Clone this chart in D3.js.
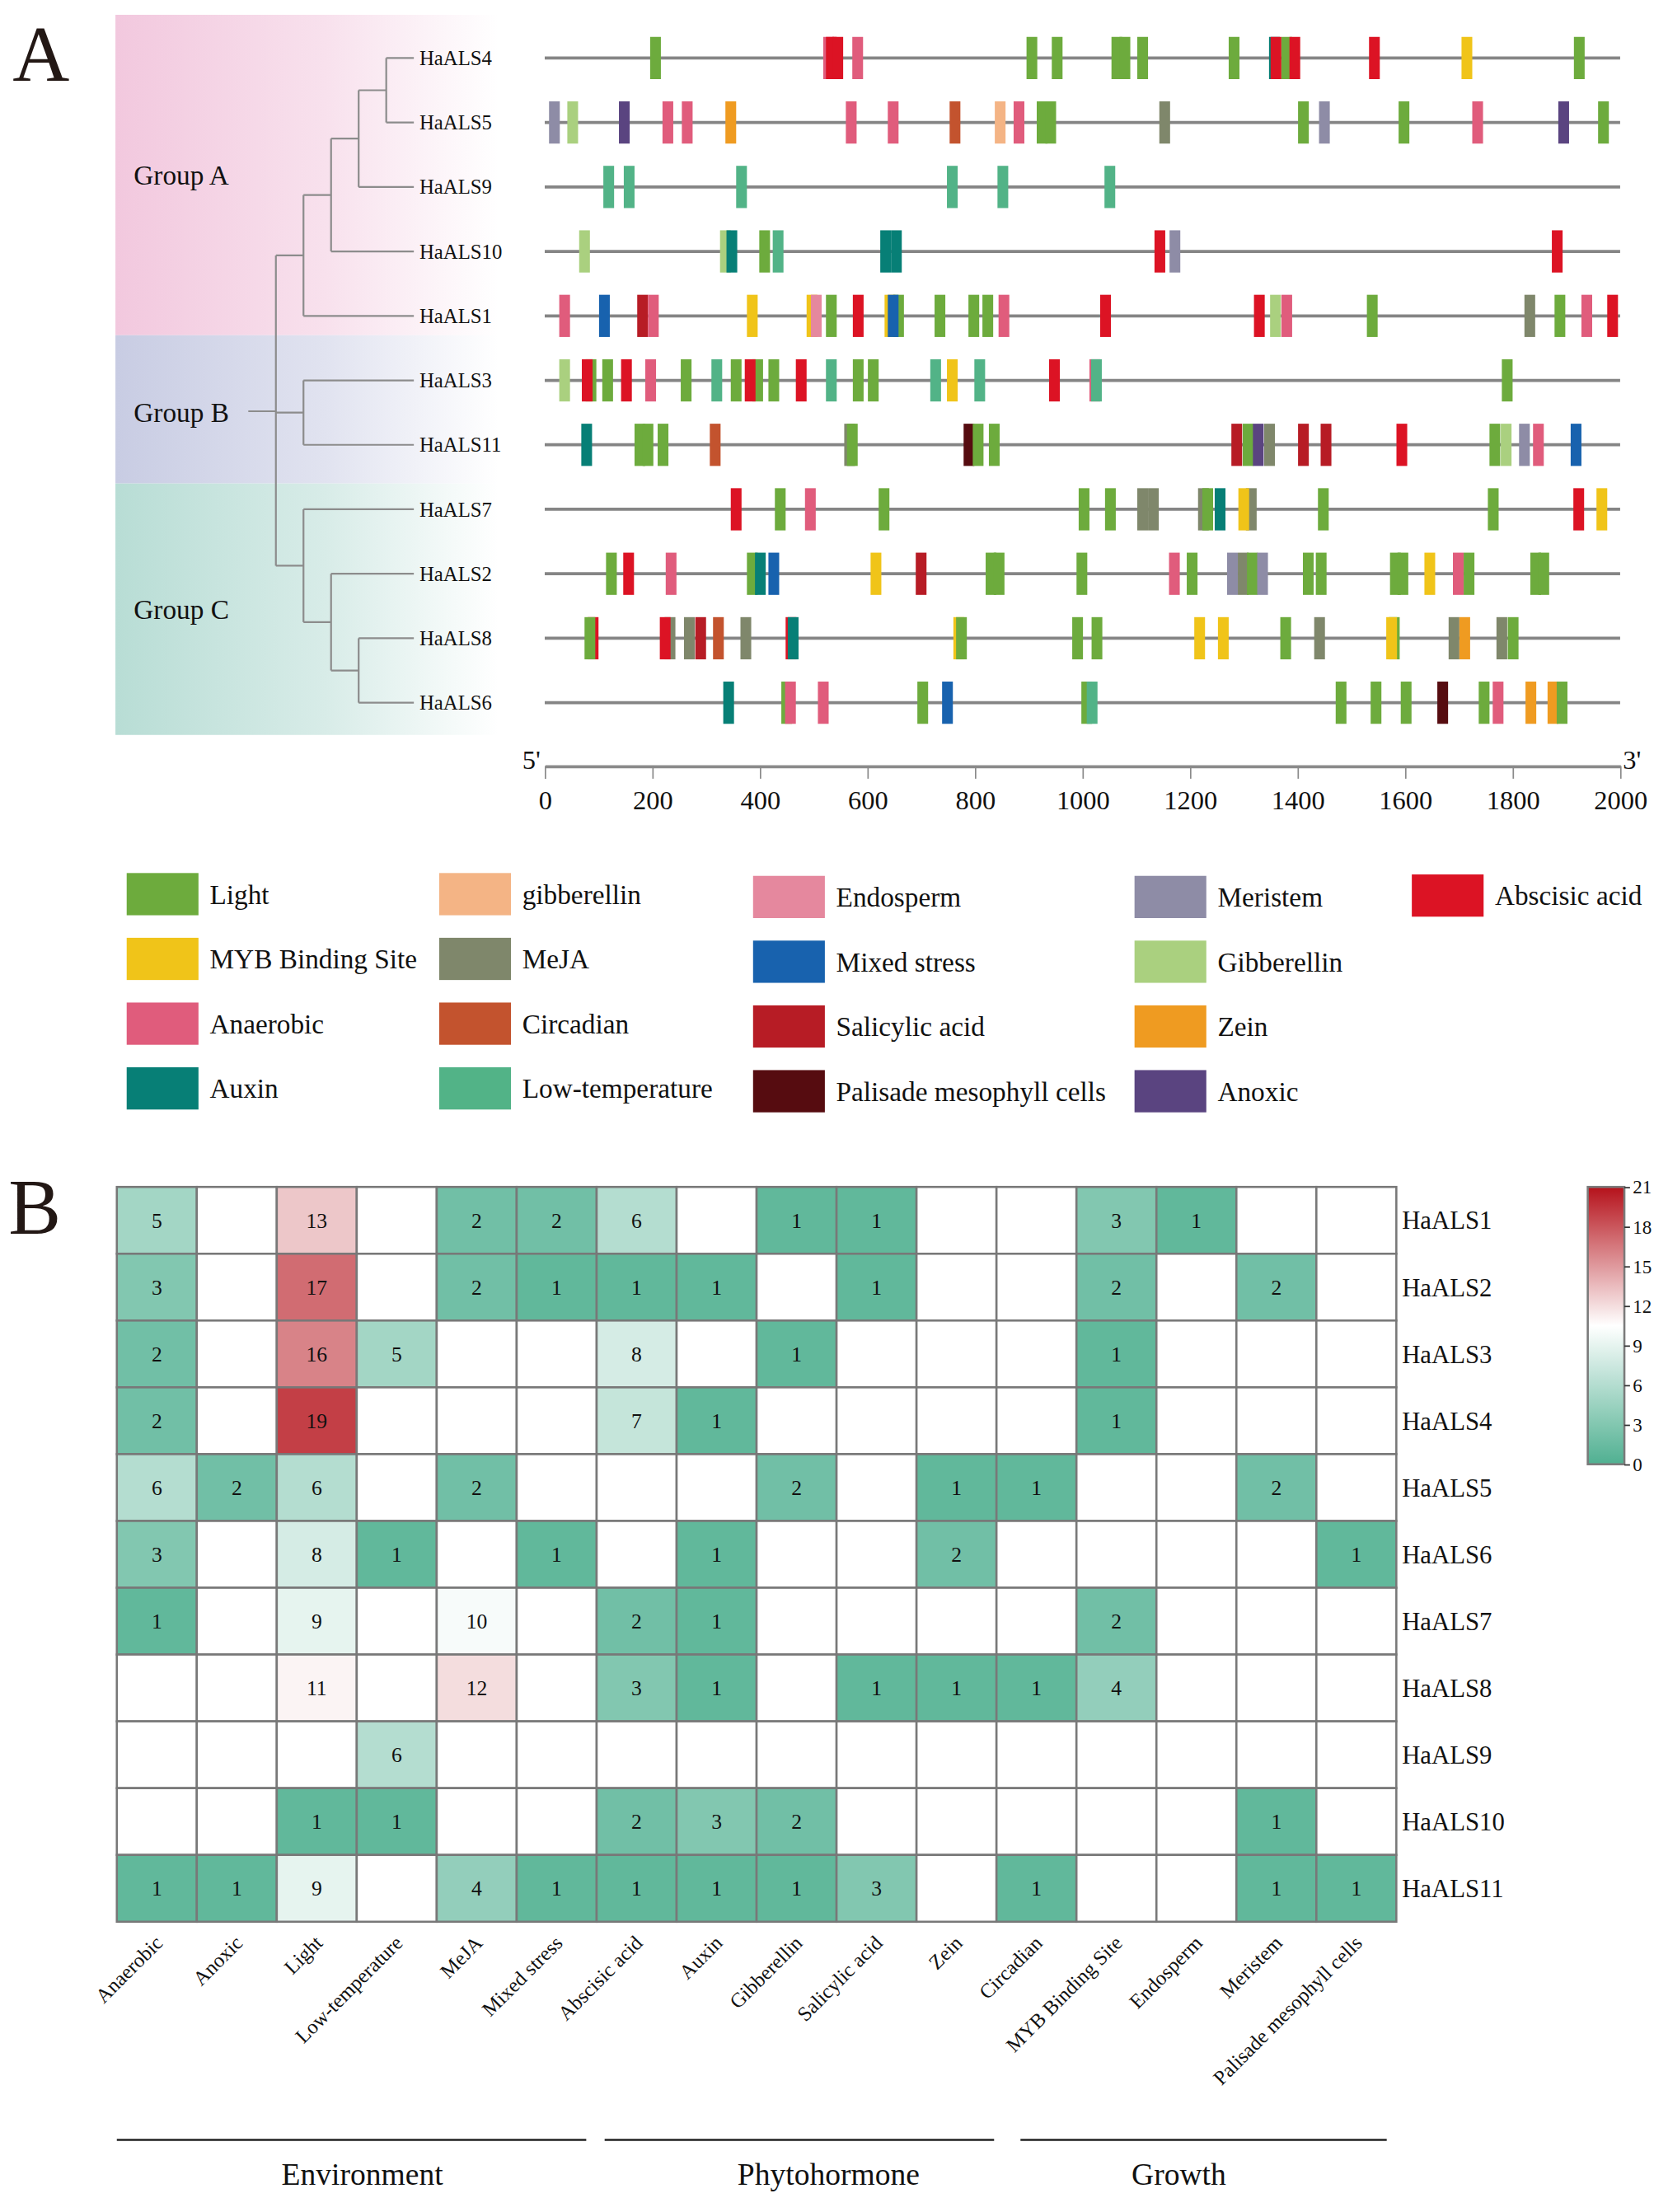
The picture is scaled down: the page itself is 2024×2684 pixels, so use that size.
<!DOCTYPE html>
<html>
<head>
<meta charset="utf-8">
<script src="https://cdn.jsdelivr.net/npm/d3@7"></script>
<style>
    html, body { margin: 0; padding: 0; background: #ffffff; }
    svg { display: block; }
</style>
</head>
<body>
<svg id="chart"></svg>
<script>
const PAGE_WIDTH = 2024;
const PAGE_HEIGHT = 2684;
const VIEW_WIDTH = 1185;
const VIEW_HEIGHT = 1571;
const FONT = "'Liberation Serif', 'Times New Roman', serif";

// ---- Panel A data ----------------------------------------------------------
const geneOrder = ["HaALS4", "HaALS5", "HaALS9", "HaALS10", "HaALS1", "HaALS3",
    "HaALS11", "HaALS7", "HaALS2", "HaALS8", "HaALS6"];

// nested clades, leaves are gene names
const treeClades = [
    [[[["HaALS4", "HaALS5"], "HaALS9"], "HaALS10"], "HaALS1"],
    ["HaALS3", "HaALS11"],
    ["HaALS7", ["HaALS2", ["HaALS8", "HaALS6"]]]
];

const groupNames = ["Group A", "Group B", "Group C"];
const groupColors = ["#f2c8de", "#c8cce3", "#b8ddd5"];

const promoterLength = 2000;
const elementLength = 20;

// [position (bp), element type]
const haALS4Elements = [[196, "Light"], [518, "Anaerobic"], [523, "Abscisic acid"], [535, "Abscisic acid"],
    [572, "Anaerobic"], [896, "Light"], [943, "Light"], [1054, "Light"], [1069, "Light"], [1102, "Light"],
    [1272, "Light"], [1347, "Auxin"], [1350, "Abscisic acid"], [1370, "Light"], [1385, "Abscisic acid"],
    [1533, "Abscisic acid"], [1705, "MYB Binding Site"], [1914, "Light"]];
const haALS5Elements = [[8, "Meristem"], [42, "Gibberellin"], [138, "Anoxic"], [219, "Anaerobic"],
    [255, "Anaerobic"], [336, "Zein"], [560, "Anaerobic"], [638, "Anaerobic"], [753, "Circadian"],
    [837, "gibberellin"], [872, "Anaerobic"], [915, "Light"], [931, "Light"], [1143, "MeJA"], [1401, "Light"],
    [1440, "Meristem"], [1588, "Light"], [1725, "Anaerobic"], [1885, "Anoxic"], [1959, "Light"]];
const haALS9Elements = [[109, "Low-temperature"], [147, "Low-temperature"], [356, "Low-temperature"],
    [748, "Low-temperature"], [842, "Low-temperature"], [1041, "Low-temperature"]];
const haALS10Elements = [[64, "Gibberellin"], [326, "Gibberellin"], [338, "Auxin"], [399, "Light"],
    [424, "Low-temperature"], [624, "Auxin"], [644, "Auxin"], [1134, "Abscisic acid"], [1162, "Meristem"],
    [1873, "Abscisic acid"]];
const haALS1Elements = [[27, "Anaerobic"], [101, "Mixed stress"], [172, "Salicylic acid"], [192, "Anaerobic"],
    [376, "MYB Binding Site"], [487, "MYB Binding Site"], [495, "Endosperm"], [523, "Light"],
    [573, "Abscisic acid"], [632, "MYB Binding Site"], [648, "Light"], [638, "Mixed stress"], [725, "Light"],
    [788, "Light"], [814, "Light"], [844, "Anaerobic"], [1033, "Abscisic acid"], [1319, "Abscisic acid"],
    [1349, "Gibberellin"], [1370, "Anaerobic"], [1529, "Light"], [1822, "MeJA"], [1878, "Light"],
    [1928, "Anaerobic"], [1976, "Abscisic acid"]];
const haALS3Elements = [[27, "Gibberellin"], [76, "Light"], [69, "Abscisic acid"], [107, "Light"],
    [142, "Abscisic acid"], [187, "Anaerobic"], [253, "Light"], [310, "Low-temperature"], [346, "Light"],
    [386, "Light"], [372, "Abscisic acid"], [416, "Light"], [467, "Abscisic acid"], [523, "Low-temperature"],
    [573, "Light"], [601, "Light"], [717, "Low-temperature"], [748, "MYB Binding Site"], [799, "Low-temperature"],
    [938, "Abscisic acid"], [1013, "Anaerobic"], [1016, "Low-temperature"], [1780, "Light"]];
const haALS11Elements = [[68, "Auxin"], [167, "Light"], [182, "Light"], [210, "Light"], [307, "Circadian"],
    [557, "MeJA"], [562, "Light"], [779, "Palisade mesophyll cells"], [796, "Light"], [826, "Light"],
    [1277, "Salicylic acid"], [1298, "Light"], [1317, "Anoxic"], [1338, "MeJA"], [1401, "Salicylic acid"],
    [1443, "Salicylic acid"], [1584, "Abscisic acid"], [1757, "Light"], [1778, "Gibberellin"], [1812, "Meristem"],
    [1838, "Anaerobic"], [1908, "Mixed stress"]];
const haALS7Elements = [[346, "Abscisic acid"], [428, "Light"], [484, "Anaerobic"], [621, "Light"], [993, "Light"],
    [1042, "Light"], [1102, "MeJA"], [1122, "MeJA"], [1215, "MeJA"], [1223, "Light"], [1246, "Auxin"],
    [1304, "MeJA"], [1290, "MYB Binding Site"], [1438, "Light"], [1754, "Light"], [1913, "Abscisic acid"],
    [1956, "MYB Binding Site"]];
const haALS2Elements = [[114, "Light"], [146, "Abscisic acid"], [225, "Anaerobic"], [376, "Light"], [391, "Auxin"],
    [416, "Mixed stress"], [606, "MYB Binding Site"], [690, "Salicylic acid"], [820, "Light"], [835, "Light"],
    [989, "Light"], [1161, "Anaerobic"], [1194, "Light"], [1269, "Meristem"], [1289, "MeJA"], [1306, "Light"],
    [1325, "Meristem"], [1410, "Light"], [1434, "Light"], [1572, "Light"], [1586, "Light"],
    [1636, "MYB Binding Site"], [1689, "Anaerobic"], [1709, "Light"], [1833, "Light"], [1848, "Light"]];
const haALS8Elements = [[80, "Abscisic acid"], [74, "Light"], [223, "MeJA"], [214, "Abscisic acid"], [259, "MeJA"],
    [280, "Salicylic acid"], [313, "Circadian"], [364, "MeJA"], [448, "Abscisic acid"], [452, "Auxin"],
    [760, "MYB Binding Site"], [765, "Light"], [981, "Light"], [1017, "Light"], [1208, "MYB Binding Site"],
    [1252, "MYB Binding Site"], [1368, "Light"], [1431, "MeJA"], [1570, "Light"], [1565, "MYB Binding Site"],
    [1681, "MeJA"], [1701, "Zein"], [1770, "MeJA"], [1791, "Light"]];
const haALS6Elements = [[332, "Auxin"], [440, "Light"], [447, "Anaerobic"], [508, "Anaerobic"], [693, "Light"],
    [739, "Mixed stress"], [998, "Light"], [1008, "Low-temperature"], [1471, "Light"], [1536, "Light"],
    [1592, "Light"], [1660, "Palisade mesophyll cells"], [1737, "Light"], [1763, "Anaerobic"], [1824, "Zein"],
    [1865, "Zein"], [1882, "Light"]];

// legend, column by column
const legendColumns = [
    ["Light", "MYB Binding Site", "Anaerobic", "Auxin"],
    ["gibberellin", "MeJA", "Circadian", "Low-temperature"],
    ["Endosperm", "Mixed stress", "Salicylic acid", "Palisade mesophyll cells"],
    ["Meristem", "Gibberellin", "Zein", "Anoxic"],
    ["Abscisic acid"]
];
const elementTypes = ["Light", "MYB Binding Site", "Anaerobic", "Auxin", "gibberellin", "MeJA", "Circadian",
    "Low-temperature", "Endosperm", "Mixed stress", "Salicylic acid", "Palisade mesophyll cells", "Meristem",
    "Gibberellin", "Zein", "Anoxic", "Abscisic acid"];
const elementColors = ["#6dab3d", "#f0c419", "#e05c7c", "#077f76", "#f4b485", "#7f876b", "#c3532e",
    "#52b387", "#e5889e", "#1862ae", "#b71c25", "#560c10", "#8e8ca6",
    "#aad07f", "#ef9b21", "#5a4480", "#dc1324"];

// ---- Panel B data ----------------------------------------------------------
const heatmapGenes = ["HaALS1", "HaALS2", "HaALS3", "HaALS4", "HaALS5", "HaALS6",
    "HaALS7", "HaALS8", "HaALS9", "HaALS10", "HaALS11"];
const heatmapTypes = ["Anaerobic", "Anoxic", "Light", "Low-temperature", "MeJA", "Mixed stress",
    "Abscisic acid", "Auxin", "Gibberellin", "Salicylic acid", "Zein", "Circadian",
    "MYB Binding Site", "Endosperm", "Meristem", "Palisade mesophyll cells"];
const _ = null;
const heatmapCounts = [
    [5, _, 13, _, 2, 2, 6, _, 1, 1, _, _, 3, 1, _, _],
    [3, _, 17, _, 2, 1, 1, 1, _, 1, _, _, 2, _, 2, _],
    [2, _, 16, 5, _, _, 8, _, 1, _, _, _, 1, _, _, _],
    [2, _, 19, _, _, _, 7, 1, _, _, _, _, 1, _, _, _],
    [6, 2, 6, _, 2, _, _, _, 2, _, 1, 1, _, _, 2, _],
    [3, _, 8, 1, _, 1, _, 1, _, _, 2, _, _, _, _, 1],
    [1, _, 9, _, 10, _, 2, 1, _, _, _, _, 2, _, _, _],
    [_, _, 11, _, 12, _, 3, 1, _, 1, 1, 1, 4, _, _, _],
    [_, _, _, 6, _, _, _, _, _, _, _, _, _, _, _, _],
    [_, _, 1, 1, _, _, 2, 3, 2, _, _, _, _, _, 1, _],
    [1, 1, 9, _, 4, 1, 1, 1, 1, 3, _, 1, _, _, 1, 1]
];
const colorbarTicks = [0, 3, 6, 9, 12, 15, 18, 21];
const heatmapDomain = [0, 10.5, 21];
const heatmapRange = ["#50b091", "#ffffff", "#b5121b"];

const categoryNames = ["Environment", "Phytohormone", "Growth"];
const categorySpans = [[0, 5.87], [6.1, 10.97], [11.3, 15.88]]; // in column units
const categoryLabelAt = [3.07, 8.9, 13.28];

// ---- setup -----------------------------------------------------------------
const svg = d3.select("#chart")
    .attr("width", PAGE_WIDTH)
    .attr("height", PAGE_HEIGHT)
    .attr("viewBox", `0 0 ${VIEW_WIDTH} ${VIEW_HEIGHT}`)
    .style("font-family", FONT);

const defs = svg.append("defs");
const colorOf = d3.scaleOrdinal().domain(elementTypes).range(elementColors);

const geneElements = {
    HaALS4: haALS4Elements, HaALS5: haALS5Elements, HaALS9: haALS9Elements, HaALS10: haALS10Elements,
    HaALS1: haALS1Elements, HaALS3: haALS3Elements, HaALS11: haALS11Elements, HaALS7: haALS7Elements,
    HaALS2: haALS2Elements, HaALS8: haALS8Elements, HaALS6: haALS6Elements
};

svg.append("text").attr("x", 9).attr("y", 57).attr("font-size", 56).attr("fill", "#231815").text("A");
svg.append("text").attr("x", 6).attr("y", 876).attr("font-size", 56).attr("fill", "#231815").text("B");

// ---- panel A: group bands + tree --------------------------------------------
const rowY = d3.scalePoint().domain(geneOrder).range([41, 499]);
const rowStep = rowY.step();
const bandEdges = [rowY("HaALS4") - rowStep * 0.67, rowY("HaALS1") + rowStep * 0.3,
    rowY("HaALS11") + rowStep * 0.6, rowY("HaALS6") + rowStep * 0.5];

groupNames.forEach((name, i) => {
    const grad = defs.append("linearGradient").attr("id", `groupGrad${i}`)
        .attr("x1", 0).attr("x2", 1).attr("y1", 0).attr("y2", 0);
    grad.append("stop").attr("offset", 0).attr("stop-color", groupColors[i]);
    grad.append("stop").attr("offset", 0.55).attr("stop-color", d3.interpolateRgb(groupColors[i], "#ffffff")(0.45));
    grad.append("stop").attr("offset", 1).attr("stop-color", "#ffffff");

    svg.append("rect")
        .attr("x", 82).attr("y", bandEdges[i])
        .attr("width", 272).attr("height", bandEdges[i + 1] - bandEdges[i])
        .attr("fill", `url(#groupGrad${i})`);

    svg.append("text")
        .attr("x", 95).attr("y", (bandEdges[i] + bandEdges[i + 1]) / 2 + (i === 1 ? 2 : 0))
        .attr("dy", "0.35em")
        .attr("font-size", 19.5)
        .attr("fill", "#111")
        .text(name);
});

const depthX = d3.scaleLinear().domain([0, 5]).range([196, 294]);
const tree = d3.hierarchy(treeClades, (d) => Array.isArray(d) ? d : null);
tree.eachAfter((node) => {
    if (!node.children) {
        node.px = depthX(5);
        node.py = rowY(node.data);
    } else {
        node.px = depthX(node.depth);
        node.py = d3.mean(node.children, (c) => c.py);
    }
});

const treeG = svg.append("g")
    .attr("stroke", "#8c8c8c").attr("stroke-width", 1.3).attr("fill", "none");
tree.descendants().filter((n) => n.children).forEach((node) => {
    const ys = node.children.map((c) => c.py);
    treeG.append("line")
        .attr("x1", node.px).attr("x2", node.px)
        .attr("y1", d3.min(ys)).attr("y2", d3.max(ys));
    node.children.forEach((child) => {
        treeG.append("line")
            .attr("x1", node.px).attr("x2", child.px)
            .attr("y1", child.py).attr("y2", child.py);
    });
});
treeG.append("line")
    .attr("x1", depthX(-1)).attr("x2", tree.px)
    .attr("y1", tree.py).attr("y2", tree.py);

svg.append("g").selectAll("text")
    .data(tree.leaves())
    .join("text")
    .attr("x", (d) => d.px + 4)
    .attr("y", (d) => d.py)
    .attr("dy", "0.35em")
    .attr("font-size", 14.5)
    .attr("fill", "#111")
    .text((d) => d.data);

// ---- panel A: promoter tracks -----------------------------------------------
const posX = d3.scaleLinear().domain([0, promoterLength]).range([387, 1151]);
const boxHeight = 30;

const tracks = svg.append("g");
geneOrder.forEach((gene) => {
    const y = rowY(gene);
    tracks.append("line")
        .attr("x1", posX(0)).attr("x2", posX(promoterLength))
        .attr("y1", y).attr("y2", y)
        .attr("stroke", "#858585").attr("stroke-width", 2.2);

    tracks.append("g").selectAll("rect")
        .data(geneElements[gene])
        .join("rect")
        .attr("x", (d) => posX(d[0]))
        .attr("y", y - boxHeight / 2)
        .attr("width", (d) => posX(d[0] + elementLength) - posX(d[0]))
        .attr("height", boxHeight)
        .attr("fill", (d) => colorOf(d[1]));
});

// position axis
const axisY = 544;
const axisG = svg.append("g").attr("transform", `translate(0, ${axisY})`);
axisG.call(d3.axisBottom(posX)
    .tickValues(d3.range(0, promoterLength + 1, 200))
    .tickFormat(d3.format("d"))
    .tickSize(9).tickSizeOuter(0));
axisG.select(".domain").attr("stroke", "#8a8a8a").attr("stroke-width", 2.2);
axisG.selectAll(".tick line").attr("stroke", "#8a8a8a").attr("stroke-width", 1);
axisG.selectAll(".tick text")
    .attr("font-family", FONT).attr("font-size", 19).attr("fill", "#111").attr("dy", "1.0em");

svg.append("text").attr("x", posX(0) - 3).attr("y", axisY + 2).attr("text-anchor", "end")
    .attr("font-size", 19).attr("fill", "#111").text("5'");
svg.append("text").attr("x", posX(promoterLength) + 2).attr("y", axisY + 2)
    .attr("font-size", 19).attr("fill", "#111").text("3'");

// ---- legend -----------------------------------------------------------------
const legendColX = [90, 312, 535, 806, 1003];
const legendRowY = [635, 681, 727, 773];
const legendColShift = [0, 0, 2, 2, 1];
const legend = svg.append("g");
legendColumns.forEach((items, ci) => {
    items.forEach((name, ri) => {
        const cy = legendRowY[ri] + legendColShift[ci];
        legend.append("rect")
            .attr("x", legendColX[ci]).attr("y", cy - 15)
            .attr("width", 51).attr("height", 30)
            .attr("fill", colorOf(name));
        legend.append("text")
            .attr("x", legendColX[ci] + 59).attr("y", cy)
            .attr("dy", "0.35em")
            .attr("font-size", 19.5)
            .attr("fill", "#111")
            .text(name);
    });
});

// ---- panel B: heatmap -----------------------------------------------------
const hmX = d3.scaleBand().domain(heatmapTypes).range([83, 992]);
const hmY = d3.scaleBand().domain(heatmapGenes).range([843, 1365]);
const colUnit = d3.scaleLinear().domain([0, heatmapTypes.length]).range(hmX.range());
const heatColor = d3.scaleLinear().domain(heatmapDomain).range(heatmapRange);

const cells = heatmapGenes.flatMap((gene, r) =>
    heatmapTypes.map((type, c) => ({ gene, type, value: heatmapCounts[r][c] })));

const hm = svg.append("g");
hm.selectAll("rect")
    .data(cells)
    .join("rect")
    .attr("x", (d) => hmX(d.type))
    .attr("y", (d) => hmY(d.gene))
    .attr("width", hmX.bandwidth())
    .attr("height", hmY.bandwidth())
    .attr("fill", (d) => d.value == null ? "#ffffff" : heatColor(d.value))
    .attr("stroke", "#787878")
    .attr("stroke-width", 1.5);

hm.selectAll("text.value")
    .data(cells.filter((d) => d.value != null))
    .join("text")
    .attr("class", "value")
    .attr("x", (d) => hmX(d.type) + hmX.bandwidth() / 2)
    .attr("y", (d) => hmY(d.gene) + hmY.bandwidth() / 2)
    .attr("dy", "0.35em")
    .attr("text-anchor", "middle")
    .attr("font-size", 15)
    .attr("fill", "#111")
    .text((d) => d.value);

svg.append("g").selectAll("text")
    .data(heatmapGenes)
    .join("text")
    .attr("x", 996)
    .attr("y", (d) => hmY(d) + hmY.bandwidth() / 2)
    .attr("dy", "0.35em")
    .attr("font-size", 18)
    .attr("fill", "#111")
    .text((d) => d);

svg.append("g").selectAll("text")
    .data(heatmapTypes)
    .join("text")
    .attr("transform", (d) => `translate(${hmX(d) + hmX.bandwidth() / 2 + 5}, 1381) rotate(-45)`)
    .attr("text-anchor", "end")
    .attr("font-size", 14.5)
    .attr("fill", "#111")
    .text((d) => d);

// category brackets
categoryNames.forEach((name, i) => {
    svg.append("line")
        .attr("x1", colUnit(categorySpans[i][0])).attr("x2", colUnit(categorySpans[i][1]))
        .attr("y1", 1520).attr("y2", 1520)
        .attr("stroke", "#222").attr("stroke-width", 1.5);
    svg.append("text")
        .attr("x", colUnit(categoryLabelAt[i])).attr("y", 1544)
        .attr("dy", "0.35em")
        .attr("text-anchor", "middle")
        .attr("font-size", 22)
        .attr("fill", "#111")
        .text(name);
});

// colour bar
const cbX = 1128;
const cbW = 26;
const cbScale = d3.scaleLinear().domain([0, 21]).range([1040, 843]);
const cbGrad = defs.append("linearGradient").attr("id", "cbGrad")
    .attr("x1", 0).attr("x2", 0).attr("y1", 1).attr("y2", 0);
d3.range(0, 21.01, 1.5).forEach((v) => {
    cbGrad.append("stop").attr("offset", v / 21).attr("stop-color", heatColor(v));
});
svg.append("rect")
    .attr("x", cbX).attr("y", cbScale(21))
    .attr("width", cbW).attr("height", cbScale(0) - cbScale(21))
    .attr("fill", "url(#cbGrad)")
    .attr("stroke", "#7a7a7a").attr("stroke-width", 1.5);

const cbAxis = svg.append("g").attr("transform", `translate(${cbX + cbW}, 0)`)
    .call(d3.axisRight(cbScale).tickValues(colorbarTicks).tickSize(4).tickPadding(2));
cbAxis.select(".domain").remove();
cbAxis.selectAll(".tick line").attr("stroke", "#333");
cbAxis.selectAll(".tick text").attr("font-family", FONT).attr("font-size", 13.5).attr("fill", "#111");
</script>
</body>
</html>
